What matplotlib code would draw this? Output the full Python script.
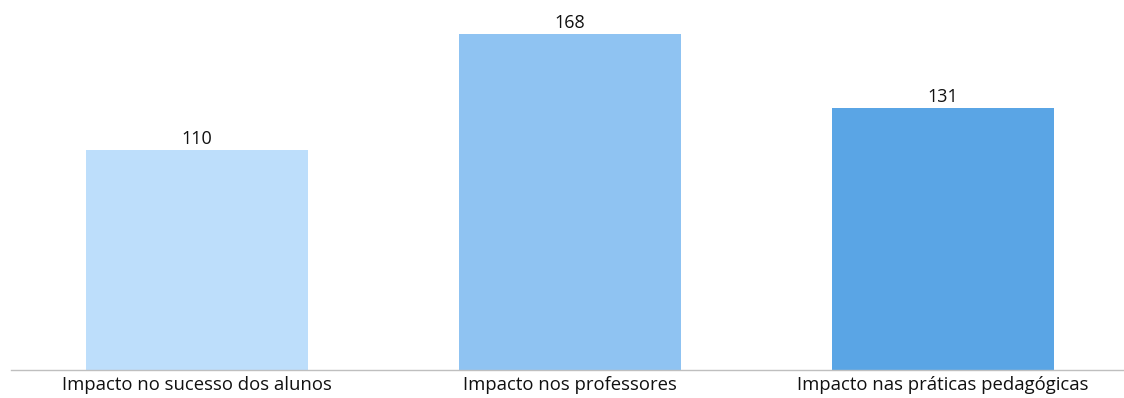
import matplotlib
matplotlib.use('Agg')
import matplotlib.pyplot as plt

categories = ['Impacto no sucesso dos alunos', 'Impacto nos professores', 'Impacto nas práticas pedagógicas']
values = [110, 168, 131]
colors = ['#BDDEFB', '#8FC3F2', '#5AA5E5']

plt.rcParams['font.family'] = ['Open Sans', 'DejaVu Sans']

fig = plt.figure(figsize=(11.24, 3.98), dpi=100)
ax = fig.add_axes([10.5 / 1124, 28 / 398, 1119 / 1124, 370 / 398])

x = range(len(categories))
bars = ax.bar(x, values, width=0.595, color=colors)
for b, v in zip(bars, values):
    ax.text(b.get_x() + b.get_width() / 2, v + 1.0, str(v),
            ha='center', va='bottom', fontsize=13, color='#111111')

ax.set_xlim(-0.5, 2.5)
ax.set_ylim(0, 185)
ax.set_xticks(list(x))
ax.set_xticklabels(categories, fontsize=13.3, color='#111111')
ax.tick_params(axis='x', length=0, pad=4)
ax.set_yticks([])
for s in ['top', 'right', 'left']:
    ax.spines[s].set_visible(False)
ax.spines['bottom'].set_color('#BFBFBF')
ax.spines['bottom'].set_linewidth(1)

fig.savefig('out.png', dpi=100)
